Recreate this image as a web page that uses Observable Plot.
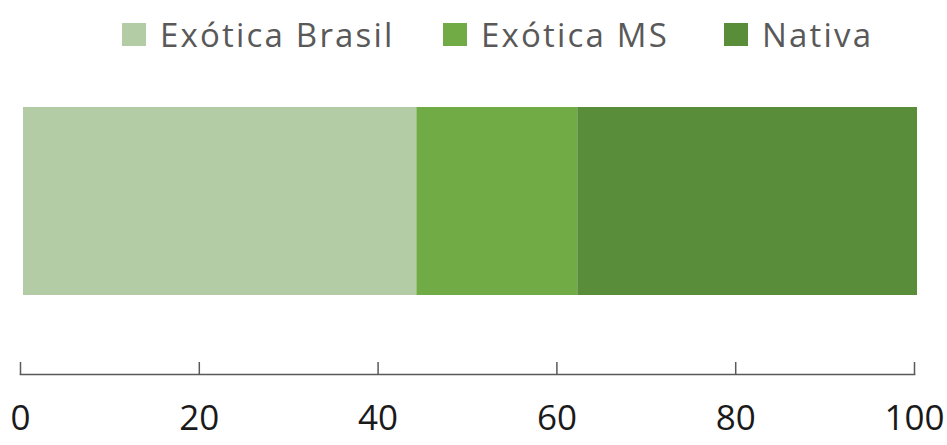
<!DOCTYPE html>
<html>
<head>
<meta charset="utf-8">
<script src="https://cdn.jsdelivr.net/npm/d3@7"></script>
<script src="https://cdn.jsdelivr.net/npm/@observablehq/plot@0.6"></script>
<style>
  html, body { margin: 0; padding: 0; background: #fff; }
  #wrap { width: 947px; height: 445px; position: relative; overflow: hidden; }
  #legend { height: 68px; position: relative;
            font-family: "Open Sans", sans-serif; font-size: 33px; color: #595959; letter-spacing: 2.2px; }
  .item { position: absolute; top: 0; height: 68px; display: flex; align-items: center; white-space: nowrap; }
  .sw { width: 24px; height: 23px; margin-right: 14px; }
</style>
</head>
<body>
<div id="wrap"><div id="legend"></div><div id="chart"></div></div>
<script>
const categories = ["Exótica Brasil", "Exótica MS", "Nativa"];
const values = [44, 18, 38];
const colors = ["#B3CCA6", "#70AB46", "#5A8D3A"];
const xTicks = [0, 20, 40, 60, 80, 100];
const group = "Total";
const legendLeft = [122, 443, 724];

const data = categories.map((c, i) => ({category: c, value: values[i], group}));

const legend = document.getElementById("legend");
categories.forEach((c, i) => {
  const it = document.createElement("div");
  it.className = "item";
  it.style.left = legendLeft[i] + "px";
  const sw = document.createElement("div");
  sw.className = "sw";
  sw.style.background = colors[i];
  const t = document.createElement("span");
  t.textContent = c;
  it.appendChild(sw); it.appendChild(t);
  legend.appendChild(it);
});

const chart = Plot.plot({
  width: 947,
  height: 377,
  marginLeft: 20,
  marginRight: 33,
  marginTop: 39,
  marginBottom: 71,
  style: {fontFamily: "Open Sans, sans-serif", background: "#fff", overflow: "visible"},
  x: {domain: [0, 100]},
  y: {domain: [group], range: [39, 227], padding: 0, axis: null},
  color: {domain: categories, range: colors},
  marks: [
    Plot.barX(data, Plot.stackX({x: "value", y: "group", fill: "category", order: categories, dx: 3})),
    Plot.frame({anchor: "bottom", stroke: "#595959", strokeWidth: 1.5}),
    Plot.axisX(xTicks, {anchor: "top", frameAnchor: "bottom", tickSize: 13, stroke: "#595959", strokeWidth: 1.5, tickFormat: () => "", label: null}),
    Plot.axisX(xTicks, {anchor: "bottom", tickSize: 0, tickPadding: 31, fontSize: 35, fill: "#1a1a1a", label: null})
  ]
});
document.getElementById("chart").appendChild(chart);
</script>
</body>
</html>
